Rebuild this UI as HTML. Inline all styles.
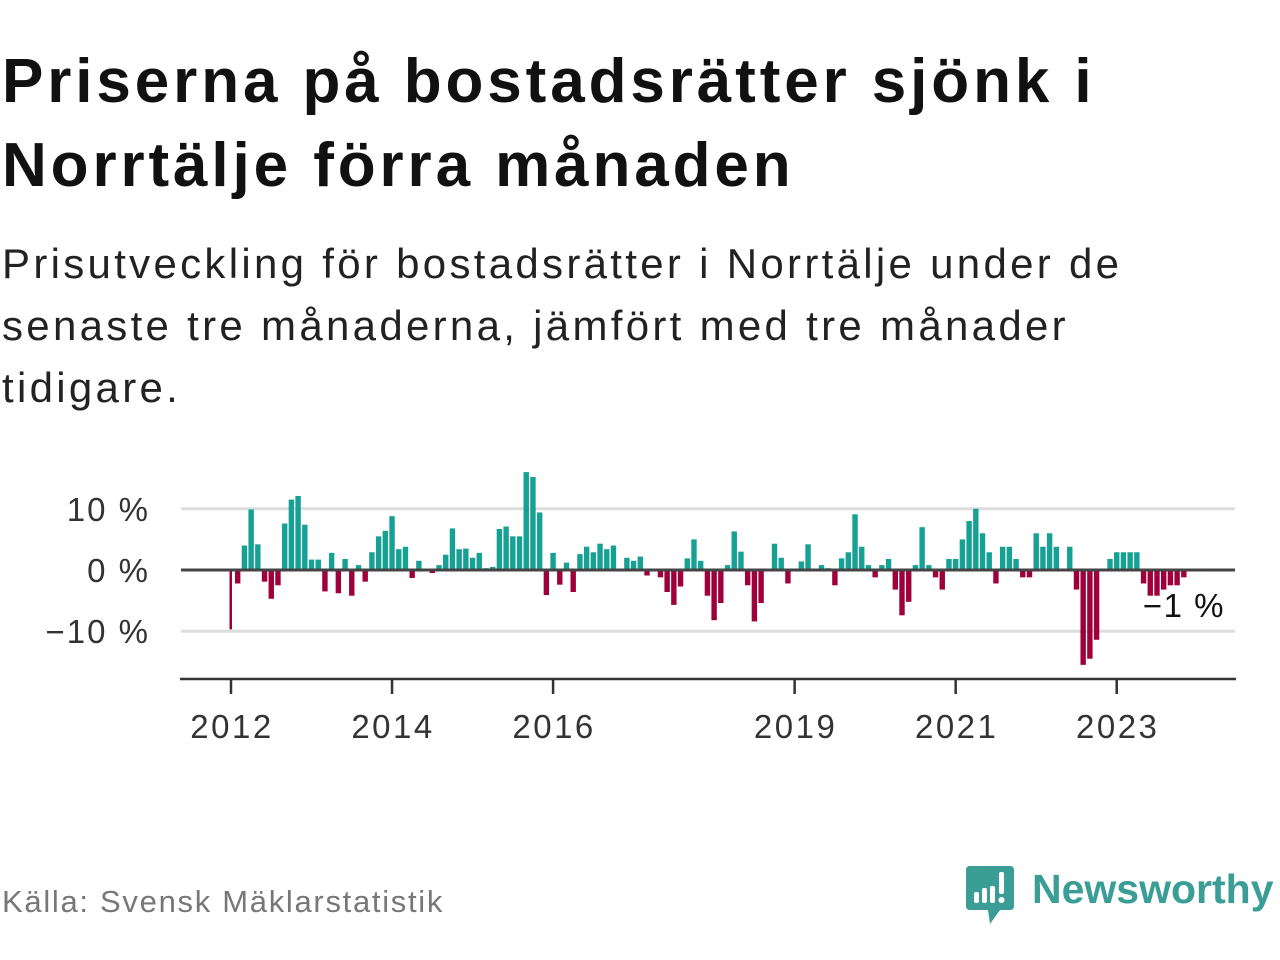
<!DOCTYPE html>
<html><head><meta charset="utf-8">
<style>
html,body{margin:0;padding:0;background:#fff;width:1280px;height:960px;overflow:hidden}
body{font-family:"Liberation Sans",sans-serif;position:relative}
.title{position:absolute;left:2px;top:40px;font-size:62px;font-weight:bold;line-height:84px;color:#111;margin:0;letter-spacing:3.9px;white-space:nowrap}
.sub{position:absolute;left:2px;top:233px;font-size:42px;line-height:62px;color:#222;margin:0;letter-spacing:3.3px;white-space:nowrap}
.src{position:absolute;left:2px;top:884px;font-size:31px;color:#777;letter-spacing:1.7px}
</style></head><body>
<h1 class="title">Priserna på bostadsrätter sjönk i<br>Norrtälje förra månaden</h1>
<p class="sub">Prisutveckling för bostadsrätter i Norrtälje under de<br>senaste tre månaderna, jämfört med tre månader<br>tidigare.</p>
<svg id="chart" width="1280" height="960" style="position:absolute;left:0;top:0" xmlns="http://www.w3.org/2000/svg"></svg>
<div class="src">Källa: Svensk Mäklarstatistik</div>
<div style="position:absolute;left:966px;top:864px;width:314px;height:64px">
<svg width="50" height="62" style="position:absolute;left:0;top:2px">
<path d="M4 0 H44 Q48 0 48 4 V40 Q48 44 44 44 H34 L24 58 L22 44 H4 Q0 44 0 40 V4 Q0 0 4 0Z" fill="#3a9e97"/>
<rect x="8" y="26" width="5" height="11" rx="2" fill="#fff"/><rect x="16" y="22" width="5" height="15" rx="2" fill="#fff"/><rect x="24" y="20" width="5" height="17" rx="2" fill="#fff"/><rect x="33" y="6" width="5" height="22" rx="2" fill="#fff"/><circle cx="35.5" cy="34" r="3" fill="#fff"/></svg>
<span style="position:absolute;left:66px;top:2px;font-size:41px;color:#3a9e97;font-weight:bold;letter-spacing:0px">Newsworthy</span>
</div>
<script>
const startYear = 2012;
const values = [-9.7,-2.2,4.0,9.9,4.2,-1.9,-4.7,-2.5,7.6,11.5,12.1,7.4,
1.7,1.7,-3.5,2.8,-3.8,1.8,-4.2,0.8,-1.9,2.9,5.5,6.4,
8.8,3.4,3.8,-1.3,1.5,0,-0.5,0.8,2.5,6.8,3.4,3.5,
2.0,2.8,0.3,0.5,6.7,7.1,5.5,5.5,16.0,15.2,9.4,-4.1,
2.8,-2.4,1.2,-3.6,2.6,3.8,2.9,4.3,3.4,4.0,0,2.0,
1.5,2.2,-0.9,0,-1.2,-3.6,-5.7,-2.7,1.9,5.0,1.5,-4.2,
-8.2,-5.4,0.8,6.3,3.0,-2.5,-8.4,-5.4,0,4.3,2.0,-2.2,
0,1.4,4.2,0,0.8,0.3,-2.5,1.9,2.9,9.1,3.8,0.8,
-1.2,0.8,1.8,-3.2,-7.4,-5.2,0.8,7.0,0.8,-1.2,-3.2,1.8,
1.8,5.0,8.0,10.0,6.0,2.9,-2.2,3.8,3.8,1.8,-1.2,-1.2,
6.0,3.8,6.0,3.8,0,3.8,-3.2,-15.5,-14.5,-11.4,0,1.8,
2.9,2.9,2.9,2.9,-2.2,-4.2,-4.2,-3.2,-2.5,-2.5,-1.2];
const yTicks = [10,0,-10];
const yTickLabels = ["10 %","0 %","\u221210 %"];
const xTickYears = [2012,2014,2016,2019,2021,2023];
const lastLabel = "\u22121 %";

const NS="http://www.w3.org/2000/svg";
const svg=document.getElementById('chart');
const x0=231, monthW=6.71, zeroY=570, pxPer=6.12;
const xScale=i=>x0+i*monthW;
const yScale=v=>zeroY-v*pxPer;
function mk(t,a){const e=document.createElementNS(NS,t);for(const k in a)e.setAttribute(k,a[k]);svg.appendChild(e);return e;}
yTicks.forEach((t,k)=>{
  if(t!==0){const g=mk('line',{x1:181,x2:1235,y1:yScale(t),y2:yScale(t),stroke:'#dddddd','stroke-width':3});
  
  }
  const l=mk('text',{x:150,y:yScale(t)+12,'text-anchor':'end','font-size':33,'letter-spacing':2,fill:'#333','font-family':'Liberation Sans, sans-serif'});
  l.textContent=yTickLabels[k];
  
  
});
values.forEach((v,i)=>{
  const cx=xScale(i);
  const y=v>=0?yScale(v):zeroY;
  const h=Math.abs(v)*pxPer;
  const w=i===0?2.5:5.4;
  const r=mk('rect',{x:i===0?cx-1.5:cx-w/2,y:y,width:w,height:h,fill:v>=0?'#16a194':'#a0003a'});
  
  
});
const z=mk('line',{x1:181,x2:1235,y1:zeroY,y2:zeroY,stroke:'#444','stroke-width':3});


const ax=mk('line',{x1:180,x2:1236,y1:679,y2:679,stroke:'#333','stroke-width':2.5});


xTickYears.forEach(yr=>{
  const x=xScale((yr-startYear)*12);
  const t=mk('line',{x1:x,x2:x,y1:679,y2:694,stroke:'#333','stroke-width':2.5});
  
  
  const l=mk('text',{x:x+1,y:738,'text-anchor':'middle','font-size':33,'letter-spacing':2.5,fill:'#333','font-family':'Liberation Sans, sans-serif'});
  l.textContent=yr;
  
  
});
const ll=mk('text',{x:1225,y:617,'text-anchor':'end','font-size':33,'letter-spacing':1.5,fill:'#111','font-family':'Liberation Sans, sans-serif'});
ll.textContent=lastLabel;


</script>
</body></html>
